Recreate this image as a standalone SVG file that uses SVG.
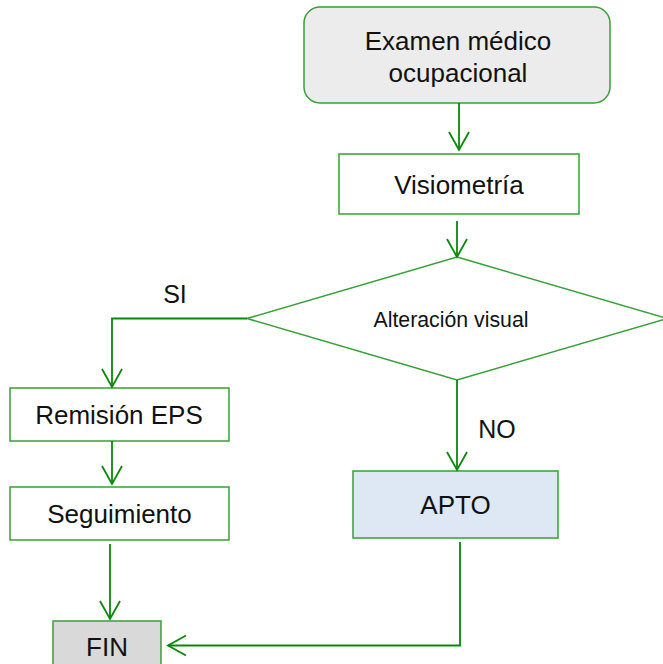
<svg xmlns="http://www.w3.org/2000/svg" width="663" height="664" viewBox="0 0 663 664">
<style>
.box{stroke:#36a036;stroke-width:1.5}
.t{font-family:"Liberation Sans",Arial,sans-serif;font-size:26px;fill:#111;text-anchor:middle}
.c{fill:none;stroke:#0a870a;stroke-width:1.8}
</style>
<defs>
<marker id="ah" markerUnits="userSpaceOnUse" markerWidth="24" markerHeight="24" viewBox="-20 -12 22 24" refX="0" refY="0" orient="auto" overflow="visible">
<path d="M-18,-10 L0,0 L-18,10" fill="none" stroke="#0a870a" stroke-width="1.8"/>
</marker>
</defs>
<rect width="663" height="664" fill="#fff"/>
<g id="n-examen">
<rect class="box" x="304" y="7" width="306" height="96" rx="16" fill="#ececec"/>
<text class="t" x="458" y="50">Examen médico</text>
<text class="t" x="458" y="82">ocupacional</text>
</g>
<g id="n-visio">
<rect class="box" x="339" y="154" width="240" height="60" fill="#fff"/>
<text class="t" x="459" y="194">Visiometría</text>
</g>
<g id="n-alter">
<polygon class="box" points="457,257 667,318.5 457,380 247,318.5" fill="#fff"/>
<text class="t" x="451" y="327" style="font-size:21.3px">Alteración visual</text>
</g>
<g id="n-remision">
<rect class="box" x="10" y="388" width="219" height="53" fill="#fff"/>
<text class="t" x="119" y="424">Remisión EPS</text>
</g>
<g id="n-seguimiento">
<rect class="box" x="10" y="487" width="219" height="53" fill="#fff"/>
<text class="t" x="119.5" y="523">Seguimiento</text>
</g>
<g id="n-apto">
<rect class="box" x="353" y="471" width="205" height="67" fill="#dde8f4"/>
<text class="t" x="455.5" y="514">APTO</text>
</g>
<g id="n-fin">
<rect class="box" x="53" y="621" width="108" height="50" fill="#d9d9d9"/>
<text class="t" x="107" y="656">FIN</text>
</g>
<g id="connectors">
<path class="c" d="M459,103 L459,150" marker-end="url(#ah)"/>
<path class="c" d="M457,221 L457,257" marker-end="url(#ah)"/>
<path class="c" d="M247,318.5 L112,318.5 L112,387" marker-end="url(#ah)"/>
<path class="c" d="M112,441 L112,484" marker-end="url(#ah)"/>
<path class="c" d="M110,544 L110,619" marker-end="url(#ah)"/>
<path class="c" d="M457,380 L457,470" marker-end="url(#ah)"/>
<path class="c" d="M460,542 L460,645.5 L168,645.5" marker-end="url(#ah)"/>
<text class="t" x="175" y="303" style="font-size:25px">SI</text>
<text class="t" x="497" y="438" style="font-size:25px">NO</text>
</g>
</svg>
